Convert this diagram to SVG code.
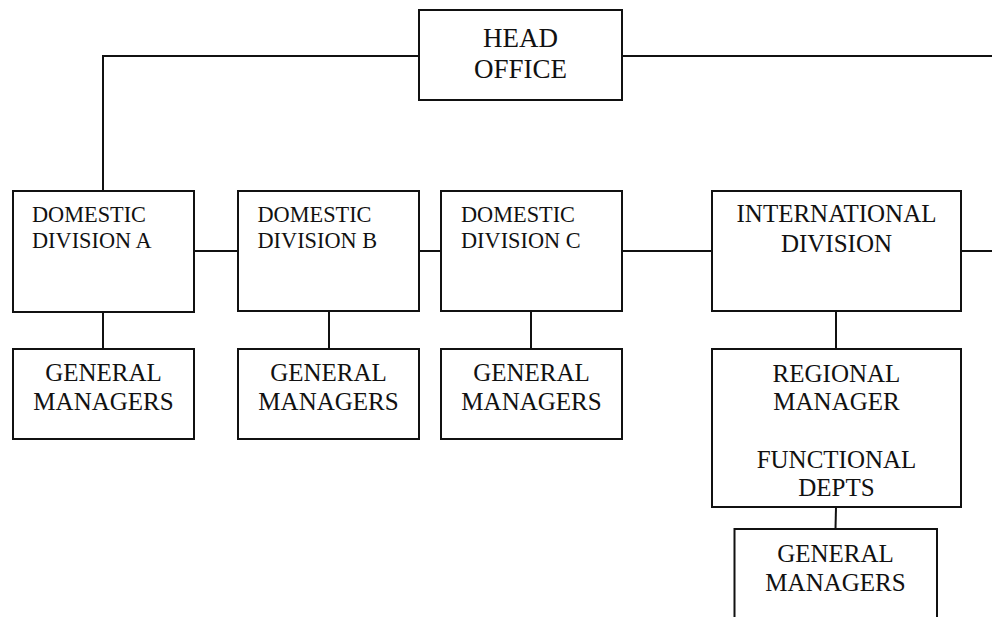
<svg xmlns="http://www.w3.org/2000/svg" width="992" height="617" viewBox="0 0 992 617">
  <style>
    .box { fill: #ffffff; stroke: #111111; stroke-width: 2; }
    .link { fill: none; stroke: #111111; stroke-width: 2; }
    text { font-family: "Liberation Serif", "Times New Roman", serif; fill: #111111; }
    .big { font-size: 27px; text-anchor: middle; }
    .mid { font-size: 25px; text-anchor: middle; }
    .dom { font-size: 22.3px; }
  </style>
  <rect width="992" height="617" fill="#ffffff"/>

  <g id="connectors">
    <polyline class="link" points="419,56 103,56 103,191"/>
    <line class="link" x1="622" y1="56" x2="992" y2="56"/>
    <line class="link" x1="194" y1="251" x2="238" y2="251"/>
    <line class="link" x1="419" y1="251" x2="441" y2="251"/>
    <line class="link" x1="622" y1="251" x2="712" y2="251"/>
    <line class="link" x1="961" y1="251" x2="992" y2="251"/>
    <line class="link" x1="103" y1="312" x2="103" y2="349"/>
    <line class="link" x1="329" y1="311" x2="329" y2="349"/>
    <line class="link" x1="531" y1="311" x2="531" y2="349"/>
    <line class="link" x1="836" y1="311" x2="836" y2="349"/>
    <line class="link" x1="836" y1="507" x2="835.5" y2="529"/>
  </g>

  <g id="head-office">
    <rect class="box" x="419" y="10" width="203" height="90"/>
    <text class="big" x="520.5" y="47">HEAD</text>
    <text class="big" x="520.5" y="78">OFFICE</text>
  </g>

  <g id="domestic-a">
    <rect class="box" x="13" y="191" width="181" height="121"/>
    <text class="dom" x="32" y="222">DOMESTIC</text>
    <text class="dom" x="32" y="248">DIVISION A</text>
  </g>

  <g id="domestic-b">
    <rect class="box" x="238" y="191" width="181" height="120"/>
    <text class="dom" x="257.5" y="222">DOMESTIC</text>
    <text class="dom" x="257.5" y="248">DIVISION B</text>
  </g>

  <g id="domestic-c">
    <rect class="box" x="441" y="191" width="181" height="120"/>
    <text class="dom" x="461" y="222">DOMESTIC</text>
    <text class="dom" x="461" y="248">DIVISION C</text>
  </g>

  <g id="international">
    <rect class="box" x="712" y="191" width="249" height="120"/>
    <text class="mid" x="836.5" y="222">INTERNATIONAL</text>
    <text class="mid" x="836.5" y="252">DIVISION</text>
  </g>

  <g id="gm-a">
    <rect class="box" x="13" y="349" width="181" height="90"/>
    <text class="mid" x="103.5" y="381">GENERAL</text>
    <text class="mid" x="103.5" y="410">MANAGERS</text>
  </g>

  <g id="gm-b">
    <rect class="box" x="238" y="349" width="181" height="90"/>
    <text class="mid" x="328.5" y="381">GENERAL</text>
    <text class="mid" x="328.5" y="410">MANAGERS</text>
  </g>

  <g id="gm-c">
    <rect class="box" x="441" y="349" width="181" height="90"/>
    <text class="mid" x="531.5" y="381">GENERAL</text>
    <text class="mid" x="531.5" y="410">MANAGERS</text>
  </g>

  <g id="regional">
    <rect class="box" x="712" y="349" width="249" height="158"/>
    <text class="mid" x="836.5" y="382">REGIONAL</text>
    <text class="mid" x="836.5" y="410">MANAGER</text>
    <text class="mid" x="836.5" y="468">FUNCTIONAL</text>
    <text class="mid" x="836.5" y="496">DEPTS</text>
  </g>

  <g id="gm-international">
    <rect class="box" x="734.5" y="529" width="202.5" height="100"/>
    <text class="mid" x="835.5" y="562">GENERAL</text>
    <text class="mid" x="835.5" y="591">MANAGERS</text>
  </g>
</svg>
